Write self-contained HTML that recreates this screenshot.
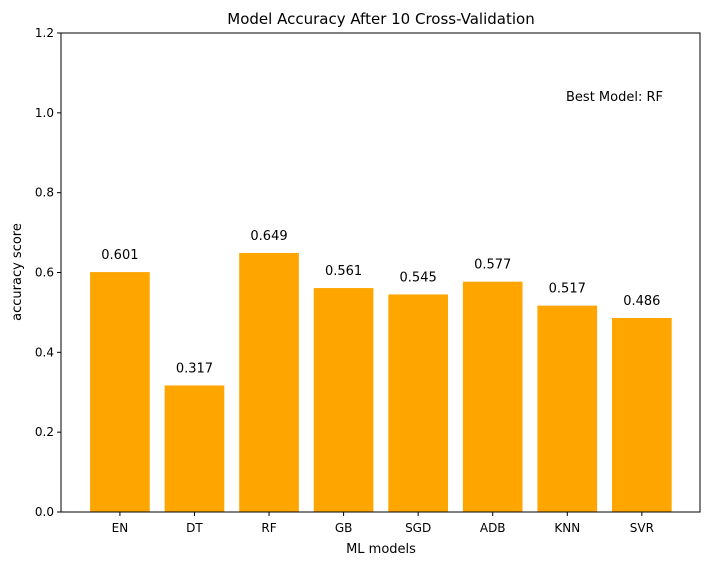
<!DOCTYPE html>
<html><head><meta charset="utf-8"><style>
body{margin:0;background:#fff;}
svg{display:block;font-family:"DejaVu Sans","Liberation Sans",sans-serif;}
</style></head><body>
<svg id="chart" width="711" height="565">
<rect x="0" y="0" width="711" height="565" fill="#fff"/>
<text x="381" y="24" font-size="15" text-anchor="middle" fill="#000">Model Accuracy After 10 Cross-Validation</text>
<text x="381" y="553" font-size="13" text-anchor="middle">ML models</text>
<text transform="translate(21,272) rotate(-90)" font-size="13" text-anchor="middle">accuracy score</text>
<text x="566" y="101" font-size="13">Best Model: RF</text>
<g id="marks"></g>
<rect x="61" y="33" width="639" height="479" fill="none" stroke="#000" stroke-width="1"/>
</svg>
<script>
const categories=["EN","DT","RF","GB","SGD","ADB","KNN","SVR"];
const values=[0.601,0.317,0.649,0.561,0.545,0.577,0.517,0.486];
const valueLabels=["0.601","0.317","0.649","0.561","0.545","0.577","0.517","0.486"];
const yTicks=[0,0.2,0.4,0.6,0.8,1.0,1.2];
const yTickLabels=["0.0","0.2","0.4","0.6","0.8","1.0","1.2"];
const L=61,R=700,T=33,B=512;
const xMin=-0.79,xMax=7.78,yMin=0,yMax=1.2;
const xs=i=>L+(i-xMin)/(xMax-xMin)*(R-L);
const ys=v=>B-(v-yMin)/(yMax-yMin)*(B-T);
const NS="http://www.w3.org/2000/svg";
const g=document.getElementById('marks');
function mk(tag,attrs){const e=document.createElementNS(NS,tag);for(const k in attrs)e.setAttribute(k,attrs[k]);return e;}
const bw=(R-L)/(xMax-xMin)*0.8;
categories.forEach((c,i)=>{
  const cx=xs(i);
  const r=mk('rect',{x:cx-bw/2,y:ys(values[i]),width:bw,height:ys(0)-ys(values[i]),fill:'#ffa500'});
  
  
  g.appendChild(r);
  const t=mk('text',{x:cx,y:ys(values[i])-13,'font-size':13,'text-anchor':'middle'});
  t.textContent=valueLabels[i];
  
  
  g.appendChild(t);
  const tk=mk('line',{x1:cx,x2:cx,y1:B,y2:B+4,stroke:'#000'});
  
  
  g.appendChild(tk);
  const tl=mk('text',{x:cx,y:B+20,'font-size':12,'text-anchor':'middle'});
  tl.textContent=c;
  
  
  g.appendChild(tl);
});
yTicks.forEach((v,i)=>{
  const y=ys(v);
  const tk=mk('line',{x1:L-4,x2:L,y1:y,y2:y,stroke:'#000'});
  
  
  g.appendChild(tk);
  const tl=mk('text',{x:L-7,y:y+4,'font-size':12,'text-anchor':'end'});
  tl.textContent=yTickLabels[i];
  
  
  g.appendChild(tl);
});
</script>
</body></html>
